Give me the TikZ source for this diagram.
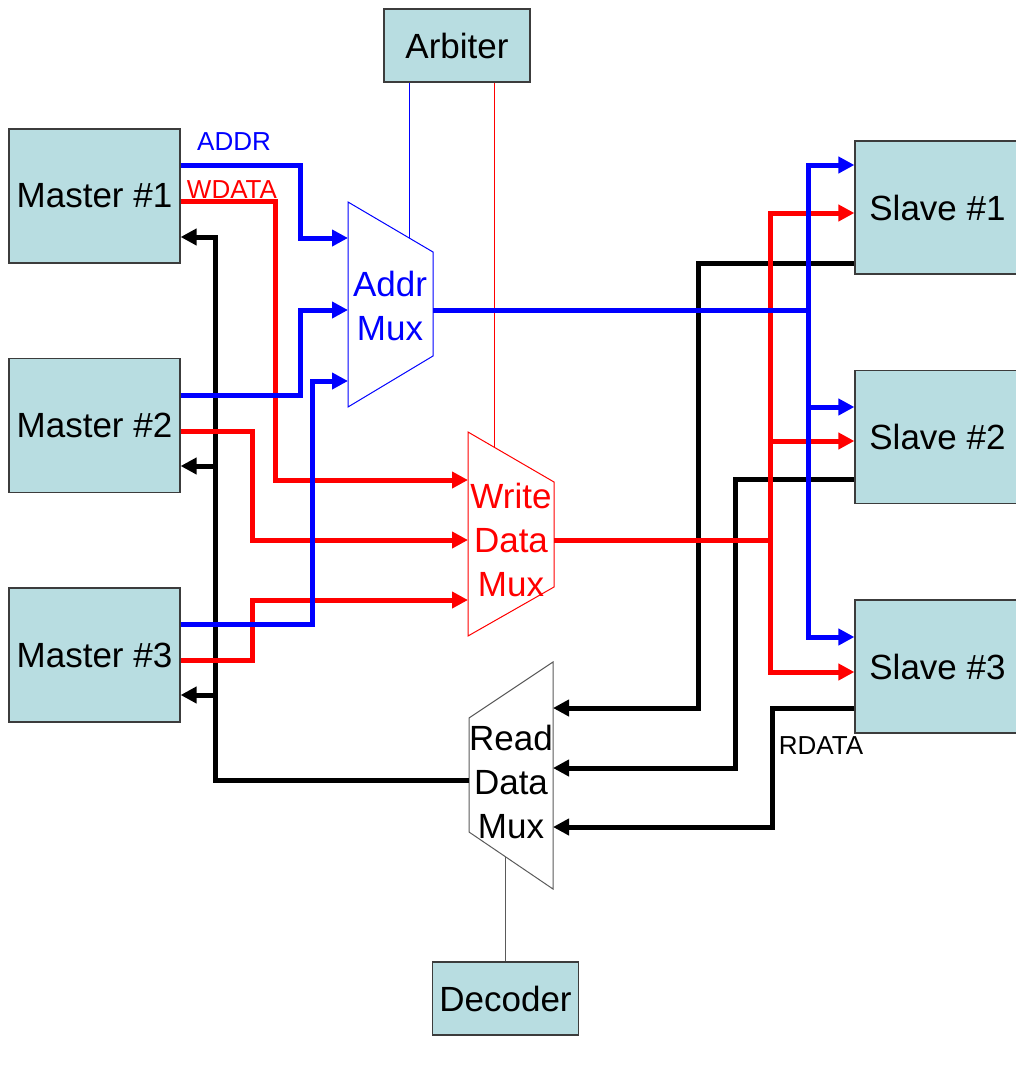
\documentclass[tikz,border=0pt]{standalone}
\usepackage{fontspec}
\setmainfont{Liberation Sans}
\usetikzlibrary{arrows.meta}
\definecolor{boxfill}{RGB}{184,221,225}
\definecolor{boxline}{RGB}{60,60,60}
\definecolor{muxgray}{RGB}{90,90,90}
\begin{document}
\begin{tikzpicture}[x=1pt,y=-1pt,
  blk/.style={draw=boxline,fill=boxfill,line width=1.2pt,inner sep=0pt,
    font=\fontsize{35}{42}\selectfont},
  mbox/.style={blk,minimum width=171pt,minimum height=134pt},
  sbox/.style={blk,minimum width=165pt,minimum height=133pt},
  cbox/.style={blk,minimum width=146pt,minimum height=73pt},
  bus/.style={line width=5pt},
  addr/.style={bus,draw=blue},
  wdat/.style={bus,draw=red},
  rdat/.style={bus,draw=black},
  tip/.style={-{Triangle[length=16pt,width=16pt]}},
  ctl/.style={line width=1pt},
  lbl/.style={font=\fontsize{26}{30}\selectfont,inner sep=0pt},
  muxtext/.style={align=center,inner sep=0pt,font=\fontsize{35}{44}\selectfont}
]
\useasboundingbox (0,0) rectangle (1016,1072);

% blocks
\node[mbox] (M1) at (94.5,196) {Master \#1};
\node[mbox] (M2) at (94.5,425.5) {Master \#2};
\node[mbox] (M3) at (94.5,655) {Master \#3};
\node[sbox] (S1) at (937.5,207.5) {Slave \#1};
\node[sbox] (S2) at (937.5,437) {Slave \#2};
\node[sbox] (S3) at (937.5,666.5) {Slave \#3};
\node[cbox] (Arb) at (457,45.5) {Arbiter};
\node[cbox] (Dec) at (505.5,998.5) {Decoder};

% multiplexers
\draw[blue,ctl] (348,202) -- (433,252) -- (433,356) -- (348,407) -- cycle;
\draw[red,ctl] (468,432) -- (554,482) -- (554,587) -- (468,636) -- cycle;
\draw[muxgray,ctl] (469,718) -- (553,662) -- (553,889) -- (469,832) -- cycle;
\node[muxtext,text=blue] (AM) at (390,306) {Addr\\Mux};
\node[muxtext,text=red] (WM) at (511,540) {Write\\Data\\Mux};
\node[muxtext] (RM) at (511,782) {Read\\Data\\Mux};

% mux ports
\coordinate (am1) at (348,238);
\coordinate (am2) at (348,310);
\coordinate (am3) at (348,381);
\coordinate (amo) at (433,310);
\coordinate (wm1) at (468,480);
\coordinate (wm2) at (468,540);
\coordinate (wm3) at (468,600);
\coordinate (wmo) at (554,540);
\coordinate (rm1) at (553,708);
\coordinate (rm2) at (553,768);
\coordinate (rm3) at (553,827);
\coordinate (rmo) at (469,780);
\coordinate (amt) at (409,238);
\coordinate (wmt) at (494,447);
\coordinate (rmb) at (505.5,857);

% control lines
\draw[blue,ctl] (Arb.south -| amt) -- (amt);
\draw[red,ctl] (Arb.south -| wmt) -- (wmt);
\draw[muxgray,ctl] (Dec.north) -- (rmb);

% read data (black)
\draw[rdat] (rmo) -- (215,780) -- (215,300);
\draw[rdat,tip] (215,300) |- (M1.east |- 0,237);
\draw[rdat,tip] (215,466) -- (M2.east |- 0,466);
\draw[rdat,tip] (215,695) -- (M3.east |- 0,695);
\draw[rdat,tip] (S1.west |- 0,263) -- (698,263) |- (rm1);
\draw[rdat,tip] (S2.west |- 0,479) -- (735,479) |- (rm2);
\draw[rdat,tip] (S3.west |- 0,708) -- (772,708) |- (rm3);

% write data (red)
\draw[wdat,tip] (M1.east |- 0,201) -- (275,201) |- (wm1);
\draw[wdat,tip] (M2.east |- 0,431) -- (252,431) |- (wm2);
\draw[wdat,tip] (M3.east |- 0,660) -- (252,660) |- (wm3);
\draw[wdat] (wmo) -- (770,540);
\draw[wdat,tip] (770,540) |- (S1.west |- 0,213);
\draw[wdat,tip] (770,540) |- (S3.west |- 0,672);
\draw[wdat,tip] (770,441) -- (S2.west |- 0,441);

% address (blue)
\draw[addr,tip] (M1.east |- 0,165) -- (300,165) |- (am1);
\draw[addr,tip] (M2.east |- 0,395) -- (300,395) |- (am2);
\draw[addr,tip] (M3.east |- 0,624) -- (312,624) |- (am3);
\draw[addr] (amo) -- (808,310);
\draw[addr,tip] (808,310) |- (S1.west |- 0,165);
\draw[addr,tip] (808,310) |- (S3.west |- 0,637);
\draw[addr,tip] (808,407) -- (S2.west |- 0,407);

% labels
\node[lbl,text=blue] (lA) at (234,142) {ADDR};
\node[lbl,text=red] (lW) at (232,190) {WDATA};
\node[lbl] (lR) at (821,746) {RDATA};
\end{tikzpicture}
\end{document}
